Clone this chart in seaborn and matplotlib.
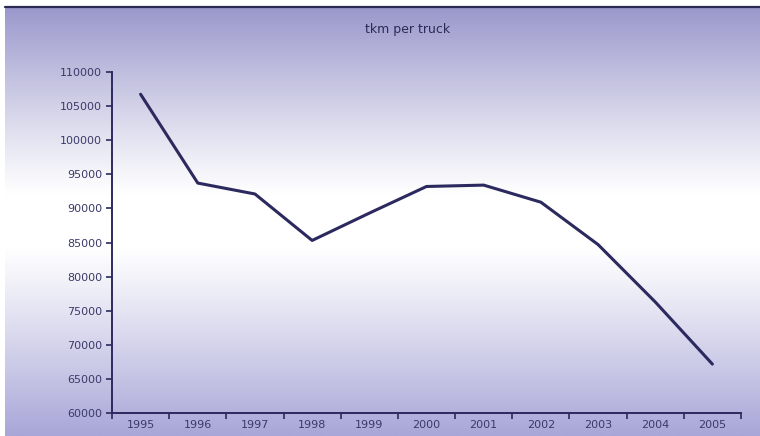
import numpy as np
import pandas as pd
import matplotlib
matplotlib.use("Agg")
import matplotlib.pyplot as plt
from matplotlib.ticker import FixedLocator, NullFormatter
import seaborn as sns

years = [1995, 1996, 1997, 1998, 1999, 2000, 2001, 2002, 2003, 2004, 2005]
tkm_per_truck = [106700, 93700, 92100, 85300, 89300, 93200, 93400, 90900, 84700, 76300, 67200]
y_ticks = list(range(60000, 110001, 5000))

df = pd.DataFrame({"year": years, "tkm": tkm_per_truck})

sns.set_theme(style="white")
plt.rcParams["font.family"] = ["DejaVu Sans"]

W, H, DPI = 760, 436, 100
fig = plt.figure(figsize=(W / DPI, H / DPI), dpi=DPI)
fig.patch.set_facecolor("white")

# Smooth vertical gradient panel: lavender at the edges fading to white near the middle
bg = fig.add_axes([5 / W, 0, 1 - 5 / W, (H - 8) / H], zorder=0)
bg.set_axis_off()
n = 400
t = np.linspace(0, 1, n)
centre = 0.50
top_col = np.array([154, 152, 203]) / 255
bot_col = np.array([168, 166, 215]) / 255
white = np.array([1.0, 1.0, 1.0])
img = np.zeros((n, 1, 3))
for i, v in enumerate(t):
    if v < centre:
        d = (centre - v) / centre
        edge = top_col
    else:
        d = (v - centre) / (1 - centre)
        edge = bot_col
    w = np.clip((d - 0.12) / 0.88, 0, 1) ** 1.1
    img[i, 0] = white + (edge - white) * w
bg.imshow(img, aspect="auto", extent=[0, 1, 0, 1], origin="upper", interpolation="bilinear")
bg.set_xlim(0, 1)
bg.set_ylim(0, 1)
# thin dark rule along the top edge of the panel
fig.add_artist(plt.Line2D([5 / W, 1], [(H - 7.5) / H, (H - 7.5) / H],
                          color="#2b2a55", lw=1.6, transform=fig.transFigure))

ax = fig.add_axes([112 / W, (H - 413.3) / H, (741 - 112) / W, (413.3 - 71.7) / H], zorder=1)
ax.patch.set_alpha(0)

navy = "#2b295e"
sns.lineplot(data=df, x="year", y="tkm", ax=ax, color=navy, linewidth=2.2)

ax.set_xlim(years[0] - 0.5, years[-1] + 0.5)
ax.set_ylim(y_ticks[0], y_ticks[-1])
ax.set_yticks(y_ticks)
ax.set_yticklabels([str(v) for v in y_ticks])

# category-style x axis: tick marks between years, labels centred on years
ax.xaxis.set_major_locator(FixedLocator([y - 0.5 for y in years] + [years[-1] + 0.5]))
ax.xaxis.set_major_formatter(NullFormatter())
ax.xaxis.set_minor_locator(FixedLocator(years))
ax.set_xticklabels([str(y) for y in years], minor=True)

label_color = "#3a3a6a"
ax.tick_params(axis="x", which="major", direction="out", length=4, width=1.2,
               color=navy, bottom=True)
ax.tick_params(axis="x", which="minor", length=0, labelsize=8, labelcolor=label_color, pad=5)
ax.tick_params(axis="y", which="major", direction="out", length=4, width=1.2,
               color=navy, left=True, labelsize=8, labelcolor=label_color, pad=3)

for side in ["top", "right"]:
    ax.spines[side].set_visible(False)
for side in ["left", "bottom"]:
    ax.spines[side].set_color(navy)
    ax.spines[side].set_linewidth(1.4)

ax.set_xlabel("")
ax.set_ylabel("")
ax.grid(False)

fig.text(408 / W, 1 - 30 / H, "tkm per truck", ha="center", va="center",
         fontsize=9, color="#2b2a55")

fig.savefig("out.png", dpi=DPI, facecolor=fig.get_facecolor())
